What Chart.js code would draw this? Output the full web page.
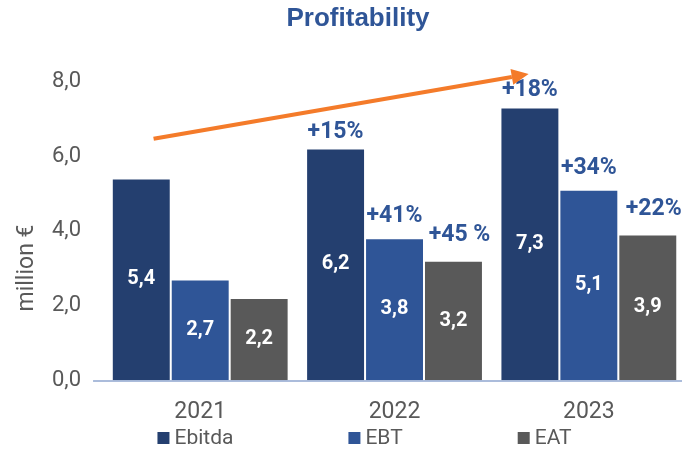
<!DOCTYPE html>
<html>
<head>
<meta charset="utf-8">
<script src="https://cdn.jsdelivr.net/npm/chart.js@4"></script>
<style>
  html, body { margin: 0; padding: 0; background: #fff; }
  #wrap { width: 687px; height: 450px; }
</style>
</head>
<body>
<div id="wrap"><canvas id="profitChart" width="687" height="450"></canvas></div>
<script>
// chart data
const years = ["2021", "2022", "2023"];
const ebitda = [5.4, 6.2, 7.3];
const ebt = [2.7, 3.8, 5.1];
const eat = [2.2, 3.2, 3.9];
const ebitdaGrowth = ["", "+15%", "+18%"];
const ebtGrowth = ["", "+41%", "+34%"];
const eatGrowth = ["", "+45 %", "+22%"];
const yTicks = [0, 2, 4, 6, 8];
// trend arrow, in data units (category index, value)
const arrowFrom = [-0.24, 6.46];
const arrowTo = [1.69, 8.19];

const navy = "#243F6F";
const blue = "#2F5597";
const grey = "#595959";
const textGrey = "#595959";

const fmt = (v) => v.toFixed(1).replace(".", ",");

// labels inside + growth labels above, arrow, axis title, legend
const extrasPlugin = {
  id: "extras",
  afterDatasetsDraw(chart) {
    const ctx = chart.ctx;
    const growth = [ebitdaGrowth, ebtGrowth, eatGrowth];
    const lift = [11, 16, 20];
    ctx.save();
    chart.data.datasets.forEach((ds, i) => {
      const meta = chart.getDatasetMeta(i);
      meta.data.forEach((bar, j) => {
        const mid = (bar.y + bar.base) / 2;
        ctx.fillStyle = "#ffffff";
        ctx.font = "bold 20px Roboto";
        ctx.textAlign = "center";
        ctx.textBaseline = "middle";
        ctx.fillText(fmt(ds.data[j]), bar.x, mid);
        if (growth[i][j]) {
          ctx.fillStyle = blue;
          ctx.font = "bold 23px Roboto";
          ctx.textBaseline = "alphabetic";
          ctx.fillText(growth[i][j], bar.x + (i === 2 ? 6 : 0), bar.y - lift[i]);
        }
      });
    });

    // arrow
    const xs = chart.scales.x, ys = chart.scales.y;
    const x1 = xs.getPixelForValue(arrowFrom[0]), y1 = ys.getPixelForValue(arrowFrom[1]);
    const x2 = xs.getPixelForValue(arrowTo[0]), y2 = ys.getPixelForValue(arrowTo[1]);
    const ang = Math.atan2(y2 - y1, x2 - x1);
    const head = 17;
    const bx = x2 - head * Math.cos(ang), by = y2 - head * Math.sin(ang);
    ctx.strokeStyle = "#F47B2A";
    ctx.fillStyle = "#F47B2A";
    ctx.lineWidth = 4;
    ctx.beginPath();
    ctx.moveTo(x1, y1);
    ctx.lineTo(bx, by);
    ctx.stroke();
    ctx.beginPath();
    ctx.moveTo(x2, y2);
    ctx.lineTo(bx + 8 * Math.sin(ang), by - 8 * Math.cos(ang));
    ctx.lineTo(bx - 8 * Math.sin(ang), by + 8 * Math.cos(ang));
    ctx.closePath();
    ctx.fill();

    // axis line, extended a little to the left
    const area = chart.chartArea;
    ctx.strokeStyle = "#8FA6CF";
    ctx.lineWidth = 1.5;
    ctx.beginPath();
    ctx.moveTo(area.left - 10, area.bottom + 0.5);
    ctx.lineTo(area.right - 4, area.bottom + 0.5);
    ctx.stroke();

    // y axis title
    ctx.save();
    ctx.translate(27, 268);
    ctx.rotate(-Math.PI / 2);
    ctx.fillStyle = textGrey;
    ctx.font = "23px Roboto";
    ctx.textAlign = "center";
    ctx.textBaseline = "middle";
    ctx.fillText("million €", 0, 0);
    ctx.restore();

    // legend
    ctx.font = "21px Roboto";
    ctx.textBaseline = "middle";
    ctx.textAlign = "left";
    const box = 12, gap = 5, spacing = 115;
    const widths = chart.data.datasets.map((ds) => box + gap + ctx.measureText(ds.label).width);
    const total = widths.reduce((a, b) => a + b, 0) + spacing * (widths.length - 1);
    let lx = chart.width / 2 - total / 2 + 21;
    const ly = 438;
    chart.data.datasets.forEach((ds, i) => {
      ctx.fillStyle = ds.backgroundColor;
      ctx.fillRect(lx, ly - box / 2, box, box);
      ctx.fillStyle = textGrey;
      ctx.fillText(ds.label, lx + box + gap, ly + 1);
      lx += widths[i] + spacing;
    });
    ctx.restore();
  }
};

const ctx = document.getElementById("profitChart").getContext("2d");
const profitChart = new Chart(ctx, {
  type: "bar",
  data: {
    labels: years,
    datasets: [
      { label: "Ebitda", data: ebitda, backgroundColor: navy },
      { label: "EBT", data: ebt, backgroundColor: blue },
      { label: "EAT", data: eat, backgroundColor: grey },
    ],
  },
  options: {
    responsive: false,
    animation: false,
    layout: { padding: { top: 0, left: 30, right: 1, bottom: 6 } },
    datasets: {
      bar: {
        categoryPercentage: 0.91,
        barPercentage: 1,
        borderColor: "rgba(255,255,255,0.35)",
        borderWidth: 1,
      },
    },
    plugins: {
      legend: { display: false },
      tooltip: { enabled: false },
      title: {
        display: true,
        text: "Profitability",
        color: blue,
        font: { family: "Liberation Sans", size: 26, weight: "bold" },
        padding: { top: 3, bottom: 47 },
      },
    },
    scales: {
      x: {
        grid: { display: false, drawTicks: false },
        border: { display: false },
        ticks: { color: textGrey, font: { family: "Roboto", size: 23 }, padding: 18 },
      },
      y: {
        min: 0,
        max: 8,
        afterBuildTicks: (axis) => { axis.ticks = yTicks.map((v) => ({ value: v })); },
        grid: { display: false, drawTicks: false },
        border: { display: false },
        ticks: {
          color: textGrey,
          font: { family: "Roboto", size: 22 },
          padding: 22,
          callback: (v) => fmt(v),
        },
      },
    },
  },
  plugins: [extrasPlugin],
});
</script>
</body>
</html>
